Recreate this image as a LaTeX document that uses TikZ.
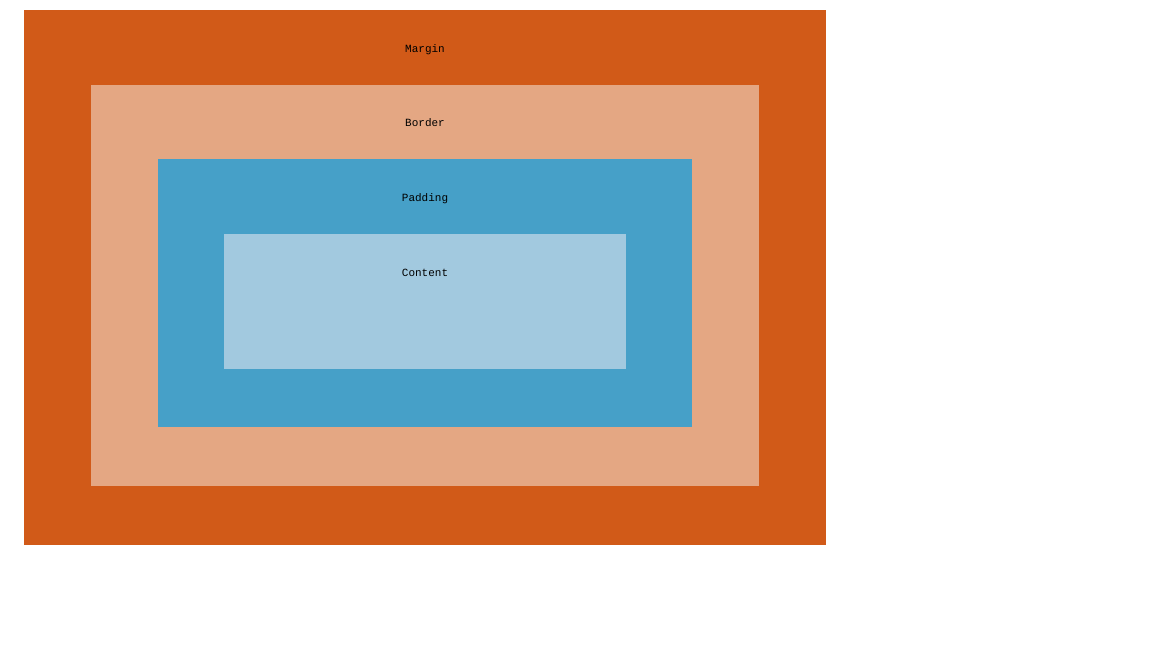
\documentclass[tikz,border=0pt]{standalone}
\usepackage{fontspec}
\setmonofont{Liberation Mono}
\usetikzlibrary{positioning}
\definecolor{marginc}{HTML}{D15A18}
\definecolor{borderc}{HTML}{E4A783}
\definecolor{paddingc}{HTML}{46A0C8}
\definecolor{contentc}{HTML}{A2C9DF}
\tikzstyle{layer} = [rectangle, anchor=north west, inner sep=0pt, outer sep=0pt, draw=none]
\tikzstyle{lbl} = [font=\ttfamily\fontsize{11}{13}\selectfont, text=black, inner sep=0pt]

\begin{document}
\begin{tikzpicture}[x=1pt, y=-1pt]
        \useasboundingbox [fill=white] (0,0) rectangle (1152,648);
        \node [layer, fill=marginc, minimum width=802pt, minimum height=535pt] at (24,10) (margin) {};
        \node [layer, fill=borderc, minimum width=668pt, minimum height=401pt] at (91,85) (border) {};
        \node [layer, fill=paddingc, minimum width=534pt, minimum height=268pt] at (158,159) (padding) {};
        \node [layer, fill=contentc, minimum width=402pt, minimum height=135pt] at (224,234) (content) {};
        \node [lbl, below=34pt of margin.north] (lmargin) {Margin};
        \node [lbl, below=33.5pt of border.north] (lborder) {Border};
        \node [lbl, below=34pt of padding.north] (lpadding) {Padding};
        \node [lbl, below=34.5pt of content.north] (lcontent) {Content};
\end{tikzpicture}
\end{document}
